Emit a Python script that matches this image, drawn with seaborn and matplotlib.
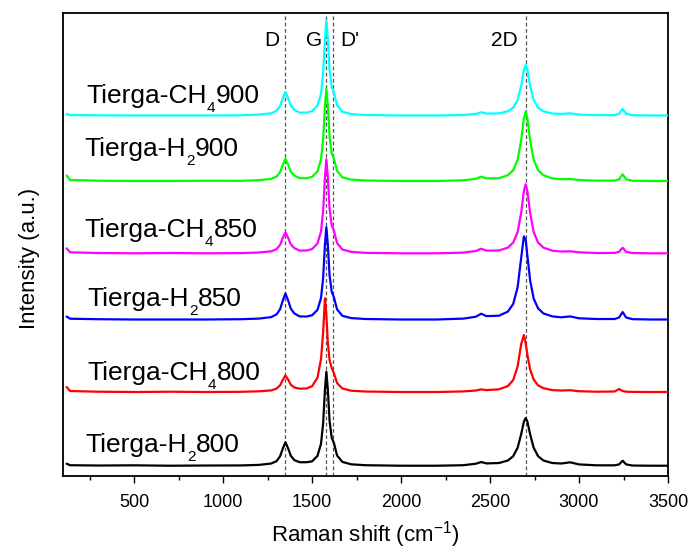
import numpy as np
import pandas as pd
import matplotlib
matplotlib.use("Agg")
import matplotlib.pyplot as plt
from matplotlib.ticker import MultipleLocator
import seaborn as sns

# Raman shift sample points (cm-1), shared by every spectrum
shift = [120, 140, 300, 500, 700, 900, 1100,
         1200, 1270, 1300, 1320, 1335, 1350, 1365, 1380, 1400, 1430, 1470,
         1500, 1530, 1550, 1562, 1572, 1580, 1588, 1598, 1610, 1622, 1640, 1670, 1720,
         1800, 2000, 2200, 2350, 2420, 2450, 2480,
         2550, 2600, 2630, 2655, 2675, 2690, 2700, 2710, 2725, 2745, 2770, 2800, 2850,
         2900, 2950, 3000, 3100, 3200, 3225, 3245, 3265, 3300, 3400, 3500]

# intensities above each spectrum's own baseline (a.u.)
h2_800 = [2, 0.5, 0.2, 0.4, 0, 0.2, 0.3,
          0.8, 2.2, 4.6, 9.4, 17.1, 23.5, 17.4, 10, 5.6, 3.5, 3.5,
          4.4, 9.8, 22, 42.5, 76, 94, 77, 45, 28, 23, 10.3, 3.8, 1.4,
          0.5, 0, 0, 0.5, 2, 3.7, 2.3,
          2.7, 5.2, 9.5, 18, 31.6, 44, 47.7, 44, 31.6, 18, 9.5, 5.2, 2.7,
          2.2, 3.4, 1.3, 0.4, 0.4, 1.3, 5, 1.3, 0.2, 0, 0]
ch4_800 = [5, 1, 0.3, 0, 0.3, 0, 0.2,
           0.7, 1.6, 3.4, 6.7, 12.1, 16.5, 12.5, 7.4, 4.5, 3.3, 3.6,
           5.9, 14.3, 33, 60, 93.7, 77, 50, 32, 24, 19, 9, 3.5, 1.3,
           0.5, 0, 0, 0.6, 1.5, 2.6, 1.9,
           2.7, 5.9, 12, 25.6, 47.9, 57, 49, 37, 22.8, 12.5, 6.7, 3.8, 1.9,
           1.5, 1.8, 0.8, 0.3, 0.5, 3, 1, 0.3, 0.1, 0, 0]
h2_850 = [3, 0.8, 0.3, 0, 0, 0, 0.3,
          0.9, 2.4, 5.1, 10.3, 18.9, 26, 19.2, 10.9, 6.1, 3.1, 3,
          4.3, 9.6, 21.5, 41.7, 75, 92.3, 75.7, 44.3, 27.7, 22.6, 10.2, 3.7, 1.4,
          0.5, 0, 0, 0.9, 2.8, 5.8, 3.4,
          3.8, 7.9, 15.5, 32.3, 61.7, 83.2, 79.8, 63.6, 39.3, 21, 11.1, 6.1, 3.1,
          2.2, 3.1, 1.2, 0.5, 0.5, 2, 7.5, 2, 0.35, 0, 0]
ch4_850 = [5, 1, 0.3, 0, 0.3, 0, 0.2,
           0.8, 2, 4.2, 8.4, 15.3, 21, 15.6, 9, 5.2, 2.7, 2.8,
           4.3, 9.8, 21.9, 42.5, 76, 94, 77, 45, 28, 23, 10.3, 3.8, 1.4,
           0.5, 0, 0, 0.7, 2.3, 4.6, 2.7,
           2.8, 5.7, 10.7, 21.3, 40.7, 62.1, 69, 62.1, 40.7, 21.3, 10.7, 5.7, 2.6,
           1.8, 2, 1, 0.3, 0.4, 1.5, 5.6, 1.5, 0.3, 0, 0]
h2_900 = [5.5, 1, 0.3, 0, 0, 0.3, 0.2,
          0.8, 2.1, 4.4, 8.9, 16.1, 22.3, 16.4, 9.5, 5.4, 2.8, 2.8,
          4.2, 9.6, 21.5, 41.7, 75, 92.3, 75.7, 44.3, 27.7, 22.6, 10.2, 3.7, 1.4,
          0.5, 0, 0, 0.7, 2.2, 4.3, 2.6,
          2.8, 5.8, 10.7, 21.3, 40.9, 62.4, 69.3, 62.4, 40.9, 21.3, 10.7, 5.8, 2.6,
          1.8, 2, 1, 0.3, 0.44, 1.7, 6.7, 1.7, 0.3, 0, 0]
ch4_900 = [1.5, 0.4, 0.2, 0, 0, 0, 0.2,
           0.9, 2.2, 4.6, 9.3, 16.9, 23.4, 17.2, 9.9, 5.6, 2.9, 2.9,
           4.4, 9.9, 21.8, 42.7, 76.8, 94.8, 77.7, 45.5, 28.4, 23.2, 10.4, 3.8, 1.4,
           0.5, 0, 0, 0.5, 1.6, 3.2, 1.9,
           2.1, 4.2, 7.8, 15.6, 29.8, 45.5, 50.5, 45.5, 29.8, 15.6, 7.8, 4.2, 2,
           1.5, 2.2, 0.9, 0.3, 0.4, 1.7, 6.5, 1.7, 0.3, 0, 0]

# sample names split as: prefix, subscript, suffix
name_head = ["Tierga-H", "Tierga-CH", "Tierga-H", "Tierga-CH", "Tierga-H", "Tierga-CH"]
name_sub = ["2", "4", "2", "4", "2", "4"]
name_tail = ["800", "800", "850", "850", "900", "900"]
offsets = [10.3, 84, 156.5, 222.7, 295, 360.5]
spectra = [h2_800, ch4_800, h2_850, ch4_850, h2_900, ch4_900]
colors = ["black", "red", "blue", "#ff00ff", "#00ff00", "#00ffff"]

# label anchor points (Raman shift, intensity)
label_x = [224, 235, 235, 218, 218, 229]
label_y = [24, 96, 170, 239, 320, 373]

band_names = ["D", "G", "D'", "2D"]
band_pos = [1350, 1580, 1620, 2700]
band_text_x = [1274, 1510, 1712, 2578]

sns.set_style("ticks")
plt.rcParams["font.family"] = ["Liberation Sans", "DejaVu Sans"]
plt.rcParams["mathtext.fontset"] = "custom"
plt.rcParams["mathtext.rm"] = "Liberation Sans"
plt.rcParams["mathtext.default"] = "regular"
plt.rcParams["text.color"] = "black"
plt.rcParams["axes.labelcolor"] = "black"
plt.rcParams["xtick.color"] = "black"

fig = plt.figure(figsize=(6.91, 5.53), dpi=100)
ax = fig.add_axes([0.0912, 0.1392, 0.8755, 0.8373])

for xb in band_pos:
    ax.axvline(xb, color="#555555", lw=0.9, ls=(0, (3, 2)), zorder=1)

# draw order so that CH4 traces sit over H2 traces
order = [0, 2, 4, 1, 3, 5]
for i in order:
    df = pd.DataFrame({"shift": shift, "intensity": np.array(spectra[i]) + offsets[i]})
    sns.lineplot(data=df, x="shift", y="intensity", color=colors[i], lw=1.6,
                 ax=ax, zorder=2 + i, estimator=None, sort=False)

for i in range(len(name_head)):
    t1 = ax.text(label_x[i], label_y[i], name_head[i], fontsize=19, va="baseline", ha="left")
    t2 = ax.annotate(name_sub[i], xy=(1, 0), xycoords=t1, xytext=(0.3, 5.2),
                     textcoords="offset points", fontsize=11, va="top", ha="left")
    ax.annotate(name_tail[i], xy=(1, 0), xycoords=(t2, t1), xytext=(0.3, 0),
                textcoords="offset points", fontsize=19, va="bottom", ha="left")

for name, xt in zip(band_names, band_text_x):
    ax.text(xt, 430, name, fontsize=15, va="baseline", ha="center")

ax.set_xlim(100, 3500)
ax.set_ylim(0, 463)
ax.xaxis.set_major_locator(MultipleLocator(500))
ax.xaxis.set_minor_locator(MultipleLocator(250))
ax.set_yticks([])
ax.tick_params(axis="x", which="major", length=5, width=1, labelsize=13, pad=8, direction="out")
ax.tick_params(axis="x", which="minor", length=3, width=1, direction="out")
ax.set_xlabel("Raman shift (cm$^{-1}$)", fontsize=16, labelpad=6)
ax.set_ylabel("Intensity (a.u.)", fontsize=16)
ax.yaxis.set_label_coords(-0.038, 0.469)
for sp in ax.spines.values():
    sp.set_linewidth(1.3)
    sp.set_color("black")

fig.savefig("out.png", dpi=100)
